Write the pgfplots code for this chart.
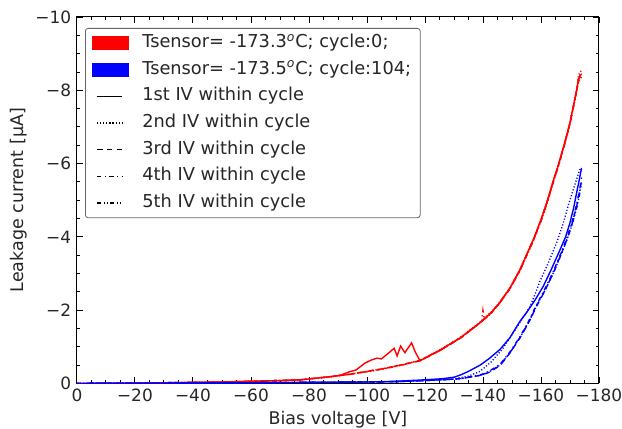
\documentclass[border=0pt,12pt]{standalone}
\usepackage{fontspec}
\setmainfont{DejaVu Sans}
\usepackage{pgfplots}
\pgfplotsset{compat=1.18}

\definecolor{txt}{RGB}{38,38,38}

\tikzset{
  s1/.style={solid},
  s2/.style={dash pattern=on 0.8pt off 1.4pt},
  s3/.style={dash pattern=on 4pt off 3pt},
  s4/.style={dash pattern=on 3pt off 2.5pt on 0.8pt off 2.5pt},
  s5/.style={dash pattern=on 3pt off 1.6pt on 0.8pt off 1.6pt on 0.8pt off 1.6pt},
}

\begin{document}
\begin{tikzpicture}
\begin{axis}[
  scale only axis,
  width=376pt, height=264pt,
  xmin=-180, xmax=0, ymin=-10, ymax=0,
  x dir=reverse, y dir=reverse,
  xtick={0,-20,-40,-60,-80,-100,-120,-140,-160,-180},
  xticklabels={0,−20,−40,−60,−80,−100,−120,−140,−160,−180},
  ytick={0,-2,-4,-6,-8,-10},
  yticklabels={0,−2,−4,−6,−8,−10},
  minor x tick num=3, minor y tick num=3,
  tick align=inside,
  xtick pos=both, ytick pos=both,
  xticklabel pos=lower, yticklabel pos=left,
  major tick length=4.5pt, minor tick length=2.2pt,
  every tick/.style={black, line width=0.6pt},
  axis line style={black, line width=0.7pt},
  tick label style={text=txt, font=\fontsize{12.2}{14}\selectfont},
  xlabel={Bias voltage [V]},
  ylabel={Leakage current [µA]},
  label style={text=txt, font=\fontsize{12.6}{15}\selectfont},
  xlabel style={yshift=2pt},
  ylabel style={yshift=-2pt},
  legend cell align=left,
  legend style={
    at={(0.0155,0.97)}, anchor=north west,
    draw=gray!80!black, rounded corners=2pt, line width=0.6pt,
    text=txt, font=\fontsize{12.8}{15}\selectfont,
    nodes={text height=9pt, text depth=2.8pt, inner ysep=3.7pt, sharp corners},
    inner xsep=4.5pt, inner ysep=1pt,
    /tikz/every odd column/.append style={column sep=7.5pt},
  },
  every axis plot/.append style={line width=1pt},
]

% legend entries
\addlegendimage{legend image code/.code={\fill[red, sharp corners] (0pt,-4.7pt) rectangle (26pt,4.7pt);}}
\addlegendentry{Tsensor= -173.3\textsuperscript{\textit{o}}C; cycle:0;}
\addlegendimage{legend image code/.code={\fill[blue, sharp corners] (0pt,-4.7pt) rectangle (26pt,4.7pt);}}
\addlegendentry{Tsensor= -173.5\textsuperscript{\textit{o}}C; cycle:104;}
\addlegendimage{legend image code/.code={\draw[black, s1, line width=0.9pt] (3.5pt,0pt) -- (21.5pt,0pt);}}
\addlegendentry{1st IV within cycle}
\addlegendimage{legend image code/.code={\draw[black, s2, line width=0.9pt] (3.5pt,0pt) -- (21.5pt,0pt);}}
\addlegendentry{2nd IV within cycle}
\addlegendimage{legend image code/.code={\draw[black, s3, line width=0.9pt] (3.5pt,0pt) -- (21.5pt,0pt);}}
\addlegendentry{3rd IV within cycle}
\addlegendimage{legend image code/.code={\draw[black, s4, line width=0.9pt] (3.5pt,0pt) -- (21.5pt,0pt);}}
\addlegendentry{4th IV within cycle}
\addlegendimage{legend image code/.code={\draw[black, s5, line width=0.9pt] (3.5pt,0pt) -- (21.5pt,0pt);}}
\addlegendentry{5th IV within cycle}

% cycle 0 (red)
\addplot[red, s2, forget plot] coordinates {
  (0,0) (-10,-0.005) (-20,-0.01) (-30,-0.02) (-40,-0.03) (-50,-0.04)
  (-60,-0.06) (-70,-0.08) (-77,-0.10) (-88,-0.19) (-94,-0.25) (-100,-0.33)
  (-106,-0.41) (-112,-0.51) (-118.3,-0.63) (-125.2,-0.92) (-132.1,-1.25)
  (-139,-1.67) (-143,-1.96) (-145.5,-2.19) (-149.3,-2.61) (-152.8,-3.12)
  (-155,-3.51) (-157.4,-3.94) (-160,-4.47) (-162,-4.94) (-164,-5.47)
  (-166,-5.97) (-168,-6.52) (-170,-7.12) (-172.3,-8.02) (-173,-8.42) (-174,-8.55)
};
\addplot[red, s3, forget plot] coordinates {
  (0,0) (-10,-0.005) (-20,-0.01) (-30,-0.02) (-40,-0.03) (-50,-0.04)
  (-60,-0.06) (-70,-0.08) (-77,-0.10) (-88,-0.19) (-94,-0.25) (-100,-0.33)
  (-106,-0.41) (-112,-0.51) (-118.3,-0.62) (-125.2,-0.90) (-132.1,-1.23)
  (-139,-1.65) (-143,-1.94) (-145.5,-2.17) (-149.3,-2.59) (-152.8,-3.09)
  (-155,-3.49) (-157.4,-3.91) (-160,-4.44) (-162,-4.91) (-164,-5.44)
  (-166,-5.94) (-168,-6.49) (-170,-7.09) (-172.3,-7.98) (-173,-8.30) (-174,-8.42)
};
\addplot[red, s4, forget plot] coordinates {
  (0,0) (-10,-0.005) (-20,-0.01) (-30,-0.02) (-40,-0.03) (-50,-0.04)
  (-60,-0.06) (-70,-0.08) (-77,-0.10) (-88,-0.19) (-94,-0.25) (-100,-0.33)
  (-106,-0.41) (-112,-0.51) (-118.3,-0.63) (-125.2,-0.91) (-132.1,-1.24)
  (-137,-1.54) (-139.5,-1.69) (-140,-2.00) (-140.5,-1.74)
  (-143,-1.95) (-145.5,-2.18) (-149.3,-2.60) (-152.8,-3.10)
  (-155,-3.50) (-157.4,-3.92) (-160,-4.45) (-162,-4.92) (-164,-5.45)
  (-166,-5.95) (-168,-6.50) (-170,-7.10) (-172.3,-8.00) (-173,-8.35) (-174,-8.48)
};
\addplot[red, s5, forget plot] coordinates {
  (0,0) (-10,-0.005) (-20,-0.01) (-30,-0.02) (-40,-0.03) (-50,-0.04)
  (-60,-0.06) (-70,-0.08) (-77,-0.10) (-88,-0.19) (-94,-0.25) (-100,-0.32)
  (-106,-0.40) (-112,-0.50) (-118.3,-0.62) (-125.2,-0.90) (-132.1,-1.23)
  (-139,-1.65) (-143,-1.93) (-145.5,-2.16) (-149.3,-2.58) (-152.8,-3.08)
  (-155,-3.47) (-157.4,-3.89) (-160,-4.42) (-162,-4.89) (-164,-5.42)
  (-166,-5.92) (-168,-6.47) (-170,-7.06) (-172.3,-7.95) (-173,-8.25) (-174,-8.36)
};
\addplot[red, s1, forget plot] coordinates {
  (0,0) (-10,-0.005) (-20,-0.01) (-30,-0.02) (-40,-0.03) (-50,-0.04)
  (-60,-0.06) (-70,-0.08) (-77,-0.10) (-88,-0.19) (-91,-0.23)
  (-94,-0.32) (-96.3,-0.37) (-99.2,-0.55) (-101.5,-0.64) (-103.5,-0.69)
  (-105,-0.67) (-107.3,-0.82) (-109.4,-0.96) (-110.4,-0.75) (-111.6,-1.02)
  (-113.1,-0.84) (-115.4,-1.11) (-116.6,-0.87) (-118.3,-0.62)
  (-125.2,-0.91) (-132.1,-1.24)
  (-139,-1.66) (-143,-1.95) (-145.5,-2.18) (-149.3,-2.60) (-152.8,-3.11)
  (-155,-3.50) (-157.4,-3.93) (-160,-4.46) (-162,-4.93) (-164,-5.46)
  (-166,-5.96) (-168,-6.51) (-170,-7.11) (-172.3,-8.00) (-173,-8.32) (-174,-8.45)
};

% cycle 104 (blue)
\addplot[blue, s5, forget plot] coordinates {
  (0,0) (-20,-0.005) (-40,-0.01) (-60,-0.02) (-80,-0.03) (-100,-0.04)
  (-110,-0.05) (-120,-0.08) (-128,-0.11) (-133,-0.14) (-136,-0.18)
  (-139,-0.22) (-142,-0.31) (-145.9,-0.50) (-149.5,-0.86) (-152.8,-1.26)
  (-155.5,-1.63) (-158.5,-2.12) (-161.5,-2.56) (-164.3,-3.02) (-166.7,-3.47)
  (-168.9,-3.90) (-170.7,-4.32) (-172.3,-4.78) (-173.3,-5.15) (-174,-5.45)
};
\addplot[blue, s4, forget plot] coordinates {
  (0,0) (-20,-0.005) (-40,-0.01) (-60,-0.02) (-80,-0.03) (-100,-0.04)
  (-110,-0.05) (-120,-0.08) (-128,-0.11) (-133,-0.14) (-136,-0.19)
  (-139,-0.23) (-142,-0.33) (-145.9,-0.52) (-149.5,-0.88) (-152.8,-1.28)
  (-155.5,-1.66) (-158.5,-2.15) (-161.5,-2.60) (-164.3,-3.06) (-166.7,-3.52)
  (-168.9,-3.96) (-170.7,-4.40) (-172.3,-4.88) (-173.3,-5.25) (-174,-5.52)
};
\addplot[blue, s3, forget plot] coordinates {
  (0,0) (-20,-0.005) (-40,-0.01) (-60,-0.02) (-80,-0.03) (-100,-0.04)
  (-110,-0.05) (-120,-0.08) (-128,-0.11) (-133,-0.14) (-136,-0.18)
  (-139,-0.22) (-142,-0.30) (-145.9,-0.49) (-149.5,-0.85) (-152.8,-1.25)
  (-155.5,-1.62) (-158.5,-2.11) (-161.5,-2.55) (-164.3,-3.02) (-166.7,-3.48)
  (-168.9,-3.92) (-170.7,-4.35) (-172.3,-4.83) (-173.3,-5.25) (-174,-5.62)
};
\addplot[blue, s2, forget plot] coordinates {
  (0,0) (-20,-0.005) (-40,-0.01) (-60,-0.02) (-80,-0.03) (-100,-0.04)
  (-110,-0.05) (-120,-0.08) (-130,-0.12) (-135,-0.20) (-139,-0.33)
  (-143,-0.60) (-147,-0.97) (-151,-1.45) (-156.2,-2.09) (-157.8,-2.40)
  (-159.6,-2.78) (-162.5,-3.28) (-165.4,-3.84) (-167.5,-4.32) (-169.4,-4.85)
  (-171.2,-5.30) (-172.9,-5.72) (-173.5,-5.85)
};
\addplot[blue, s1, forget plot] coordinates {
  (0,0) (-20,-0.005) (-40,-0.01) (-60,-0.02) (-80,-0.03) (-100,-0.04)
  (-110,-0.06) (-120,-0.10) (-126,-0.13) (-130,-0.17) (-132.5,-0.24)
  (-135,-0.33) (-139,-0.50) (-142,-0.67) (-145.9,-0.93) (-149.3,-1.25)
  (-152.8,-1.70) (-155,-1.93) (-158,-2.28) (-160.8,-2.65) (-163.5,-3.10)
  (-166.6,-3.65) (-168.5,-4.00) (-170,-4.38) (-171.3,-4.80) (-172.3,-5.20)
  (-173.2,-5.55) (-174,-5.88)
};
\end{axis}
\pgfresetboundingbox
\useasboundingbox ([shift={(-55.4pt,-32.4pt)}]current axis.south west)
  rectangle ([shift={(16.6pt,12.2pt)}]current axis.north east);
\end{tikzpicture}
\end{document}
